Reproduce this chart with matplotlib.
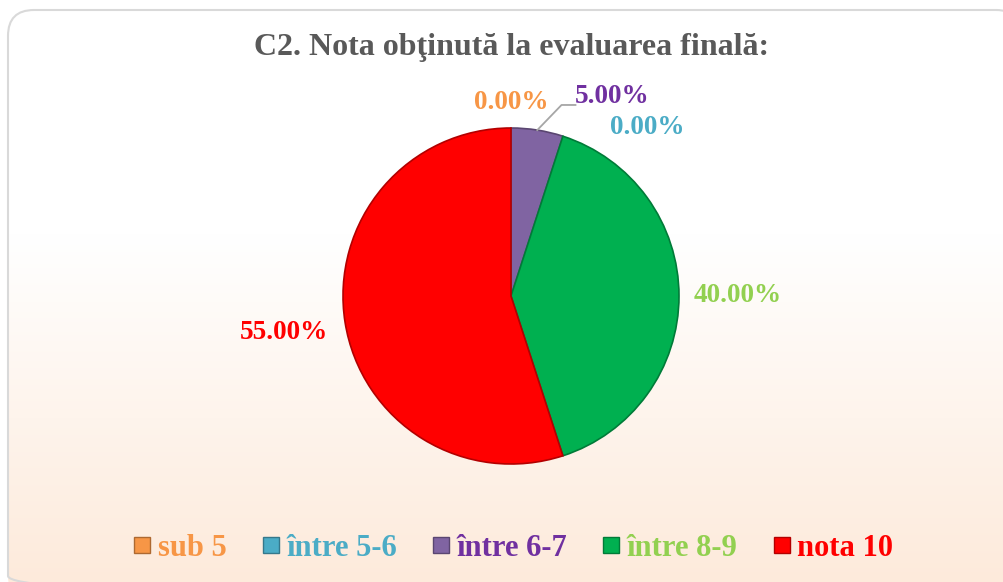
import numpy as np
import matplotlib
matplotlib.use('Agg')
import matplotlib.pyplot as plt
from matplotlib.patches import FancyBboxPatch
from matplotlib.colors import to_rgb
from matplotlib.lines import Line2D

# ---- data ----
categories = ['sub 5', 'între 5-6', 'între 6-7', 'între 8-9', 'nota 10']
values = [0, 0, 5, 40, 55]
title = 'C2. Nota obţinută la evaluarea finală:'

# ---- style ----
wedge_colors = ['#F79646', '#4BACC6', '#8064A2', '#00B050', '#FF0000']
text_colors = ['#F79646', '#4BACC6', '#7030A0', '#92D050', '#FF0000']
# label placement (angle shift in degrees, radial distance in radii)
label_shift = [0, -39, -18, 0, 0]
label_dist = [1.15, 1.29, 1.33, 1.35, 1.37]
serif = ['Liberation Serif', 'DejaVu Serif']

W, H, DPI = 1004, 582, 100
fig = plt.figure(figsize=(W / DPI, H / DPI), dpi=DPI)

# background gradient with rounded border
bg = fig.add_axes([0, 0, 1, 1])
bg.set_xlim(0, W)
bg.set_ylim(H, 0)
bg.axis('off')
top = np.array(to_rgb('#FFFFFF'))
bot = np.array(to_rgb('#FDE9D9'))
ys = np.linspace(0, 1, 300)
t = np.clip((ys - 0.38) / 0.62, 0, 1)
grad = (top[None, :] * (1 - t[:, None]) + bot[None, :] * t[:, None])[:, None, :]
im = bg.imshow(grad, extent=[8, W + 20, H + 20, 10], aspect='auto', zorder=0)
box = FancyBboxPatch((8, 10), W + 10, H + 10,
                     boxstyle='round,pad=0,rounding_size=26',
                     facecolor='none', edgecolor='#D9D9D9', linewidth=1.5, zorder=2)
bg.add_patch(box)
im.set_clip_path(box)

fig.text(512 / W, 1 - 47 / H, title, ha='center', va='center',
         fontsize=23, fontweight='bold', color='#595959', family=serif)

# pie
R = 168
cx, cy = 511, 296
ax = fig.add_axes([(cx - R) / W, (H - cy - R) / H, 2 * R / W, 2 * R / H])
edge_cols = [tuple(np.array(to_rgb(c)) * 0.7) for c in wedge_colors]
wedges, _ = ax.pie(values, colors=wedge_colors, startangle=90, counterclock=False,
                   radius=1, wedgeprops=dict(linewidth=1.2))
for w, ec in zip(wedges, edge_cols):
    w.set_edgecolor(ec)
ax.set_xlim(-1, 1)
ax.set_ylim(-1, 1)
ax.axis('off')

total = sum(values)
for i, (w, v) in enumerate(zip(wedges, values)):
    mid = (w.theta1 + w.theta2) / 2
    ang = np.deg2rad(mid + label_shift[i])
    d = label_dist[i]
    x, y = d * np.cos(ang), d * np.sin(ang)
    ax.text(x, y, f'{v / total * 100:.2f}%', ha='center', va='center',
            fontsize=19.5, fontweight='bold', color=text_colors[i], family=serif,
            clip_on=False)
    if label_shift[i] != 0 and v > 0:
        m = np.deg2rad(mid)
        x0, y0 = np.cos(m), np.sin(m)
        xe = x - 0.22
        ye = y - 0.048
        ax.plot([x0, xe - 0.083, xe], [y0, ye, ye], color='#A6A6A6', lw=1.3,
                clip_on=False)

handles = [Line2D([], [], marker='s', linestyle='none', markersize=12,
                  markerfacecolor=c, markeredgecolor=tuple(np.array(to_rgb(c)) * 0.7))
           for c in wedge_colors]
leg = fig.legend(handles, categories, loc='center', bbox_to_anchor=(514 / W, 1 - 548 / H),
                 ncol=5, frameon=False, handlelength=0.5, handletextpad=0.25,
                 columnspacing=1.2, prop=dict(family=serif, weight='bold', size=22),
                 labelcolor=text_colors)

fig.savefig('out.png', dpi=DPI)
